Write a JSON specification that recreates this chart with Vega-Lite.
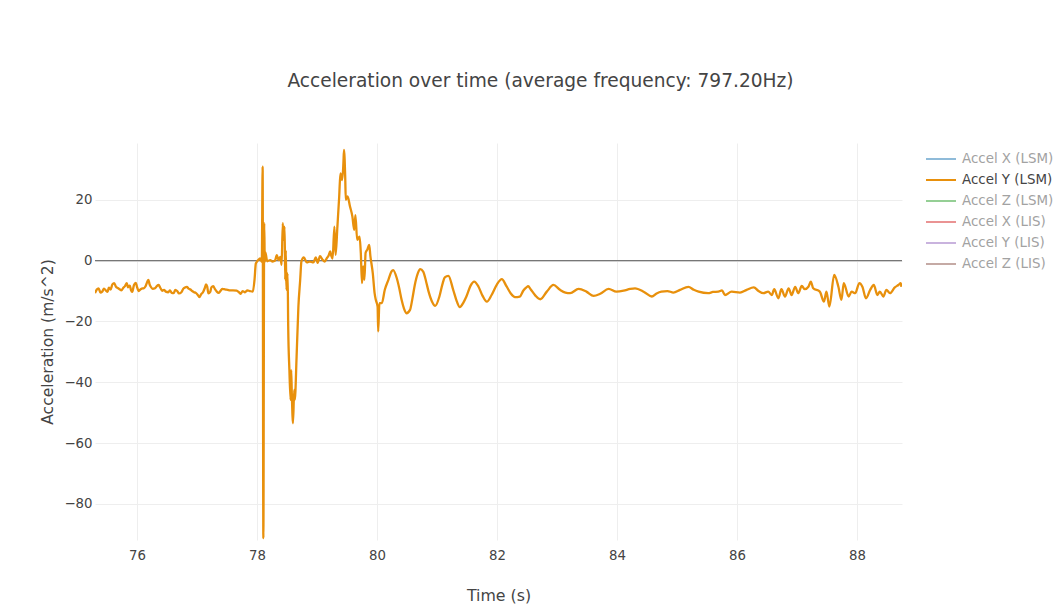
{
  "$schema": "https://vega.github.io/schema/vega-lite/v6.json",
  "autosize": {"type": "none"},
  "width": 807,
  "height": 397,
  "padding": {"left": 95, "top": 143, "right": 161, "bottom": 66},
  "background": "white",
  "title": {
    "text": "Acceleration over time (average frequency: 797.20Hz)",
    "font": "DejaVu Sans",
    "fontSize": 18.6,
    "fontWeight": "normal",
    "color": "#444",
    "anchor": "middle",
    "dx": 42,
    "offset": 52
  },
  "config": {
    "view": {"stroke": null},
    "font": "DejaVu Sans"
  },
  "layer": [
    {
      "data": {"values": [{"zero": 0}]},
      "mark": {"type": "rule", "color": "#777", "strokeWidth": 1.4},
      "encoding": {"y": {"field": "zero", "type": "quantitative", "scale": {"domain": [-91.9, 38.7], "nice": false, "zero": false}}}
    },
    {
      "data": {"values": [
        {"t": 75.30, "a": -10.7}, {"t": 75.33, "a": -9.5}, {"t": 75.36, "a": -9.1}, {"t": 75.39, "a": -10.5}, {"t": 75.42, "a": -10.2},
        {"t": 75.45, "a": -9.2}, {"t": 75.48, "a": -9.8}, {"t": 75.51, "a": -10.3}, {"t": 75.53, "a": -8.9}, {"t": 75.56, "a": -9.5},
        {"t": 75.59, "a": -7.8}, {"t": 75.62, "a": -7.4}, {"t": 75.65, "a": -8.6}, {"t": 75.68, "a": -9.0}, {"t": 75.71, "a": -9.4},
        {"t": 75.74, "a": -9.8}, {"t": 75.77, "a": -9.0}, {"t": 75.80, "a": -8.4}, {"t": 75.83, "a": -7.4}, {"t": 75.85, "a": -8.8},
        {"t": 75.88, "a": -8.2}, {"t": 75.90, "a": -9.7}, {"t": 75.92, "a": -10.3}, {"t": 75.95, "a": -8.0}, {"t": 75.98, "a": -7.3},
        {"t": 76.00, "a": -8.6}, {"t": 76.03, "a": -10.0}, {"t": 76.05, "a": -9.6}, {"t": 76.08, "a": -9.2}, {"t": 76.11, "a": -9.1},
        {"t": 76.14, "a": -8.5}, {"t": 76.17, "a": -7.0}, {"t": 76.19, "a": -6.3}, {"t": 76.21, "a": -7.8}, {"t": 76.23, "a": -8.6},
        {"t": 76.26, "a": -9.3}, {"t": 76.30, "a": -9.1}, {"t": 76.33, "a": -8.4}, {"t": 76.36, "a": -8.0}, {"t": 76.39, "a": -9.0},
        {"t": 76.42, "a": -9.9}, {"t": 76.45, "a": -9.6}, {"t": 76.48, "a": -10.2}, {"t": 76.52, "a": -10.4}, {"t": 76.55, "a": -9.8},
        {"t": 76.58, "a": -10.6}, {"t": 76.61, "a": -10.7}, {"t": 76.64, "a": -9.6}, {"t": 76.67, "a": -10.0}, {"t": 76.70, "a": -10.8},
        {"t": 76.74, "a": -10.4}, {"t": 76.77, "a": -9.3}, {"t": 76.80, "a": -8.8}, {"t": 76.83, "a": -8.6}, {"t": 76.86, "a": -9.2},
        {"t": 76.89, "a": -9.5}, {"t": 76.92, "a": -10.0}, {"t": 76.95, "a": -10.4}, {"t": 76.98, "a": -10.6}, {"t": 77.01, "a": -11.2},
        {"t": 77.04, "a": -12.0}, {"t": 77.07, "a": -11.0}, {"t": 77.10, "a": -10.4}, {"t": 77.13, "a": -9.0}, {"t": 77.15, "a": -7.8},
        {"t": 77.17, "a": -8.5}, {"t": 77.19, "a": -10.8}, {"t": 77.22, "a": -10.3}, {"t": 77.24, "a": -8.8}, {"t": 77.27, "a": -8.4},
        {"t": 77.30, "a": -9.4}, {"t": 77.33, "a": -10.2}, {"t": 77.36, "a": -10.6}, {"t": 77.39, "a": -10.0}, {"t": 77.42, "a": -9.3},
        {"t": 77.45, "a": -9.4}, {"t": 77.48, "a": -9.5}, {"t": 77.51, "a": -9.6}, {"t": 77.55, "a": -9.8}, {"t": 77.60, "a": -9.8},
        {"t": 77.66, "a": -9.9}, {"t": 77.70, "a": -10.4}, {"t": 77.73, "a": -10.9}, {"t": 77.76, "a": -10.0}, {"t": 77.80, "a": -10.4},
        {"t": 77.84, "a": -9.8}, {"t": 77.88, "a": -10.0}, {"t": 77.93, "a": -10.2}, {"t": 77.96, "a": -6.0}, {"t": 77.98, "a": -1.0},
        {"t": 78.00, "a": -0.3}, {"t": 78.02, "a": 0.2}, {"t": 78.05, "a": 0.7}, {"t": 78.08, "a": -0.4}, {"t": 78.094, "a": 30.9},
        {"t": 78.106, "a": -91.3}, {"t": 78.12, "a": 12.3}, {"t": 78.13, "a": -0.4}, {"t": 78.14, "a": 2.7}, {"t": 78.17, "a": -0.2},
        {"t": 78.22, "a": 0.2}, {"t": 78.26, "a": -0.3}, {"t": 78.30, "a": 0.0}, {"t": 78.33, "a": 1.8}, {"t": 78.36, "a": 0.2},
        {"t": 78.39, "a": 1.2}, {"t": 78.41, "a": -1.4}, {"t": 78.43, "a": 12.3}, {"t": 78.44, "a": 6.8}, {"t": 78.46, "a": 11.2},
        {"t": 78.47, "a": -6.3}, {"t": 78.48, "a": 3.4}, {"t": 78.49, "a": -9.6}, {"t": 78.51, "a": -4.2}, {"t": 78.52, "a": -21.7},
        {"t": 78.54, "a": -36.0}, {"t": 78.56, "a": -45.8}, {"t": 78.57, "a": -36.0}, {"t": 78.58, "a": -43.6}, {"t": 78.60, "a": -53.5},
        {"t": 78.62, "a": -42.5}, {"t": 78.63, "a": -45.8}, {"t": 78.66, "a": -31.6}, {"t": 78.69, "a": -15.1}, {"t": 78.72, "a": -6.3},
        {"t": 78.74, "a": -0.3}, {"t": 78.78, "a": 1.1}, {"t": 78.83, "a": -0.6}, {"t": 78.88, "a": -0.3}, {"t": 78.94, "a": -0.6},
        {"t": 78.98, "a": 1.1}, {"t": 79.01, "a": -0.7}, {"t": 79.05, "a": 1.5}, {"t": 79.09, "a": 0.4}, {"t": 79.13, "a": -0.3},
        {"t": 79.16, "a": 0.7}, {"t": 79.19, "a": 1.5}, {"t": 79.22, "a": 3.0}, {"t": 79.24, "a": 1.5}, {"t": 79.26, "a": 0.7},
        {"t": 79.29, "a": 11.2}, {"t": 79.31, "a": 1.9}, {"t": 79.34, "a": 11.2}, {"t": 79.37, "a": 21.1}, {"t": 79.39, "a": 28.7},
        {"t": 79.42, "a": 26.5}, {"t": 79.44, "a": 32.0}, {"t": 79.45, "a": 36.4}, {"t": 79.47, "a": 27.6}, {"t": 79.48, "a": 20.0},
        {"t": 79.51, "a": 21.1}, {"t": 79.55, "a": 17.8}, {"t": 79.59, "a": 14.5}, {"t": 79.62, "a": 10.1}, {"t": 79.64, "a": 15.0},
        {"t": 79.67, "a": 6.8}, {"t": 79.71, "a": 7.9}, {"t": 79.73, "a": 2.6}, {"t": 79.75, "a": -7.4}, {"t": 79.77, "a": -1.9},
        {"t": 79.79, "a": -6.3}, {"t": 79.81, "a": 2.6}, {"t": 79.84, "a": 3.7}, {"t": 79.87, "a": 5.2}, {"t": 79.89, "a": 1.5},
        {"t": 79.93, "a": -4.2}, {"t": 79.96, "a": -10.7}, {"t": 79.98, "a": -12.9}, {"t": 80.01, "a": -15.1}, {"t": 80.02, "a": -23.3},
        {"t": 80.04, "a": -14.0}, {"t": 80.08, "a": -14.0}, {"t": 80.13, "a": -9.6}, {"t": 80.19, "a": -6.3}, {"t": 80.24, "a": -3.6},
        {"t": 80.27, "a": -3.1}, {"t": 80.33, "a": -5.8}, {"t": 80.37, "a": -9.0}, {"t": 80.41, "a": -12.9}, {"t": 80.45, "a": -15.8}, {"t": 80.49, "a": -17.3}, {"t": 80.55, "a": -16.2},
        {"t": 80.59, "a": -12.5}, {"t": 80.63, "a": -8.0}, {"t": 80.68, "a": -4.2}, {"t": 80.72, "a": -2.8}, {"t": 80.77, "a": -3.6}, {"t": 80.82, "a": -7.0}, {"t": 80.86, "a": -10.2}, {"t": 80.92, "a": -13.6}, {"t": 80.97, "a": -14.9},
        {"t": 81.04, "a": -11.8}, {"t": 81.09, "a": -7.8}, {"t": 81.13, "a": -5.5}, {"t": 81.19, "a": -5.0}, {"t": 81.27, "a": -9.6}, {"t": 81.33, "a": -13.4}, {"t": 81.38, "a": -15.3},
        {"t": 81.44, "a": -13.8}, {"t": 81.49, "a": -11.8}, {"t": 81.56, "a": -8.2}, {"t": 81.62, "a": -6.9}, {"t": 81.69, "a": -8.5}, {"t": 81.76, "a": -11.6}, {"t": 81.83, "a": -13.5}, {"t": 81.91, "a": -11.3},
        {"t": 82.00, "a": -7.8}, {"t": 82.08, "a": -6.1}, {"t": 82.16, "a": -8.5}, {"t": 82.23, "a": -10.8}, {"t": 82.30, "a": -12.0}, {"t": 82.38, "a": -11.8}, {"t": 82.44, "a": -9.8}, {"t": 82.49, "a": -8.8},
        {"t": 82.52, "a": -8.4}, {"t": 82.56, "a": -9.4}, {"t": 82.64, "a": -11.5}, {"t": 82.72, "a": -12.7}, {"t": 82.83, "a": -10.2}, {"t": 82.94, "a": -8.0},
        {"t": 83.05, "a": -9.6}, {"t": 83.14, "a": -10.5}, {"t": 83.22, "a": -10.7}, {"t": 83.36, "a": -9.3}, {"t": 83.49, "a": -10.2}, {"t": 83.61, "a": -11.6},
        {"t": 83.72, "a": -10.9}, {"t": 83.86, "a": -9.3}, {"t": 83.99, "a": -10.2}, {"t": 84.11, "a": -9.9}, {"t": 84.22, "a": -9.3},
        {"t": 84.30, "a": -9.1}, {"t": 84.45, "a": -10.3}, {"t": 84.58, "a": -11.8}, {"t": 84.66, "a": -10.8}, {"t": 84.74, "a": -10.2},
        {"t": 84.84, "a": -10.0}, {"t": 84.94, "a": -10.5}, {"t": 85.05, "a": -9.6}, {"t": 85.19, "a": -8.6}, {"t": 85.28, "a": -9.6},
        {"t": 85.36, "a": -10.2}, {"t": 85.52, "a": -10.7}, {"t": 85.60, "a": -10.3}, {"t": 85.69, "a": -10.2}, {"t": 85.75, "a": -9.8},
        {"t": 85.80, "a": -11.3}, {"t": 85.91, "a": -10.2}, {"t": 86.05, "a": -10.5}, {"t": 86.16, "a": -9.6}, {"t": 86.28, "a": -8.8},
        {"t": 86.36, "a": -10.0}, {"t": 86.44, "a": -10.7}, {"t": 86.52, "a": -10.2}, {"t": 86.58, "a": -11.3}, {"t": 86.62, "a": -9.4},
        {"t": 86.69, "a": -12.4}, {"t": 86.74, "a": -9.4}, {"t": 86.80, "a": -11.8}, {"t": 86.86, "a": -9.1}, {"t": 86.91, "a": -11.3},
        {"t": 86.97, "a": -8.6}, {"t": 87.02, "a": -10.7}, {"t": 87.08, "a": -8.3}, {"t": 87.13, "a": -9.4}, {"t": 87.19, "a": -8.6},
        {"t": 87.23, "a": -6.9}, {"t": 87.27, "a": -9.1}, {"t": 87.38, "a": -10.2}, {"t": 87.45, "a": -13.5}, {"t": 87.49, "a": -10.2},
        {"t": 87.54, "a": -15.1}, {"t": 87.62, "a": -4.7}, {"t": 87.69, "a": -8.6}, {"t": 87.74, "a": -12.9}, {"t": 87.78, "a": -7.4},
        {"t": 87.86, "a": -11.8}, {"t": 87.91, "a": -10.2}, {"t": 87.97, "a": -10.7}, {"t": 88.04, "a": -7.4}, {"t": 88.09, "a": -8.6},
        {"t": 88.15, "a": -12.4}, {"t": 88.22, "a": -9.6}, {"t": 88.28, "a": -8.0}, {"t": 88.34, "a": -11.3}, {"t": 88.38, "a": -10.2},
        {"t": 88.44, "a": -11.8}, {"t": 88.49, "a": -9.6}, {"t": 88.55, "a": -10.7}, {"t": 88.63, "a": -8.8}, {"t": 88.69, "a": -8.0},
        {"t": 88.73, "a": -7.4}, {"t": 88.74, "a": -8.6}
      ]},
      "transform": [{"calculate": "'Accel Y (LSM)'", "as": "series"}],
      "mark": {"type": "line", "strokeWidth": 2.3, "clip": true, "strokeJoin": "round", "interpolate": "monotone"},
      "encoding": {
        "x": {
          "field": "t", "type": "quantitative",
          "scale": {"domain": [75.3, 88.75], "nice": false, "zero": false},
          "axis": {
            "title": "Time (s)", "values": [76, 78, 80, 82, 84, 86, 88],
            "domain": false, "ticks": false, "gridColor": "#eeeeee", "gridWidth": 1,
            "labelFont": "DejaVu Sans", "labelFontSize": 13.3, "labelColor": "#444", "labelPadding": 8,
            "titleFont": "DejaVu Sans", "titleFontSize": 15.8, "titleFontWeight": "normal", "titleColor": "#444", "titlePadding": 27
          }
        },
        "y": {
          "field": "a", "type": "quantitative",
          "scale": {"domain": [-91.9, 38.7], "nice": false, "zero": false},
          "axis": {
            "title": "Acceleration (m/s^2)", "values": [-80, -60, -40, -20, 0, 20],
            "domain": false, "ticks": false, "gridColor": "#eeeeee", "gridWidth": 1,
            "labelFont": "DejaVu Sans", "labelFontSize": 13.3, "labelColor": "#444", "labelPadding": 3,
            "titleFont": "DejaVu Sans", "titleFontSize": 15.6, "titleFontWeight": "normal", "titleColor": "#444", "titlePadding": 8
          }
        },
        "color": {
          "field": "series", "type": "nominal",
          "scale": {
            "domain": ["Accel X (LSM)", "Accel Y (LSM)", "Accel Z (LSM)", "Accel X (LIS)", "Accel Y (LIS)", "Accel Z (LIS)"],
            "range": ["#8fbbd9", "#e8900c", "#95cf95", "#ea9393", "#c9b3de", "#c5aaa5"]
          },
          "legend": {
            "title": null, "orient": "none", "legendX": 835, "legendY": 5,
            "symbolType": "M-1.5,0H1.5", "symbolSize": 400, "symbolStrokeWidth": 2,
            "labelFont": "DejaVu Sans", "labelFontSize": 13.4, "labelOffset": 10, "rowPadding": 3,
            "padding": 0,
            "encode": {
              "labels": {"update": {"fill": {"signal": "datum.value === 'Accel Y (LSM)' ? '#444444' : '#a2a2a2'"}}}
            }
          }
        }
      }
    }
  ]
}
